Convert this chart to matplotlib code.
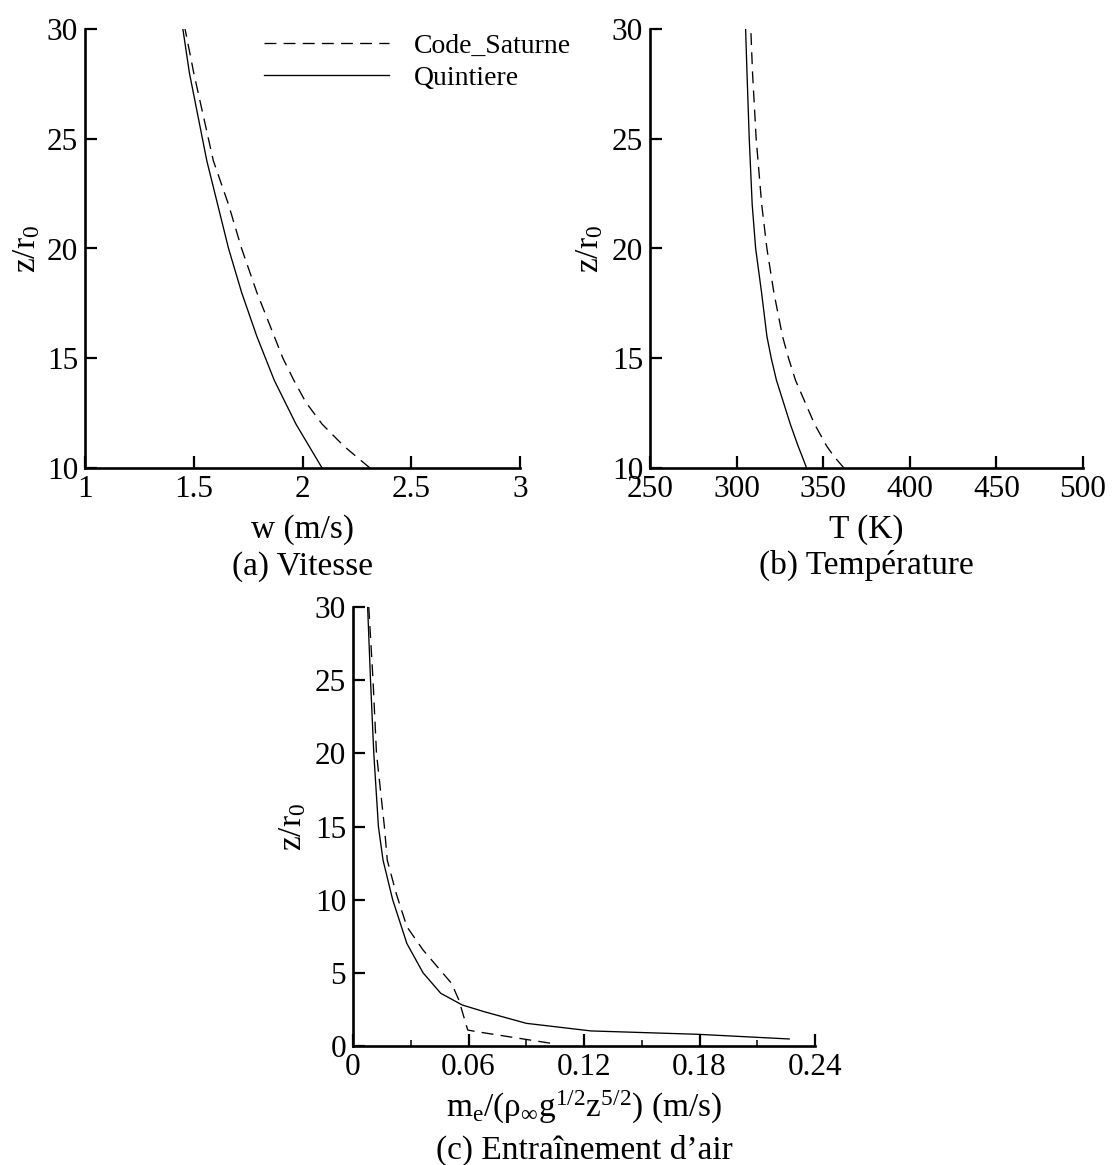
"""Vertical profiles along the plume axis: Code_Saturne vs Quintiere."""
import matplotlib
matplotlib.use("Agg")
import matplotlib.pyplot as plt

plt.rcParams.update({
    "font.family": ["Liberation Serif", "DejaVu Serif"],
    "mathtext.fontset": "custom",
    "mathtext.rm": "Liberation Serif",
    "mathtext.it": "Liberation Serif:italic",
    "font.size": 24,
})

W, H = 1112, 1165

# (a) axial velocity
z_a = [10, 11, 12, 13, 14, 15, 16, 18, 20, 22, 24, 26, 28, 30]
w_quint = [2.09, 2.03, 1.97, 1.92, 1.87, 1.83, 1.79, 1.72, 1.66, 1.61, 1.56, 1.52, 1.48, 1.45]
w_cs = [2.31, 2.19, 2.09, 2.015, 1.96, 1.91, 1.87, 1.79, 1.72, 1.66, 1.59, 1.545, 1.50, 1.46]
w_ticks = [1, 1.5, 2, 2.5, 3]
w_ticklabels = ["1", "1.5", "2", "2.5", "3"]

# (b) axial temperature
z_b = [10, 10.5, 11, 12, 13, 14, 15, 16, 18, 20, 22, 25, 28, 30]
T_quint = [340.4, 338, 335.5, 331, 327, 323, 320, 317.5, 314.4, 311, 309, 307.3, 306, 305.2]
T_cs = [362, 356.5, 352, 345, 339.5, 334, 330, 326.5, 321.5, 317.5, 314.5, 311.3, 309.2, 308.2]
T_ticks = [250, 300, 350, 400, 450, 500]

# (c) air entrainment
z_c_quint = [30, 25, 20, 15, 12.7, 10, 7, 5, 3.6, 2.8, 2.35, 1.55, 1.03, 0.8, 0.48]
me_quint = [0.0076, 0.0091, 0.0108, 0.0132, 0.0156, 0.0206, 0.028, 0.0364, 0.0456,
            0.0568, 0.068, 0.090, 0.1236, 0.179, 0.2266]
z_c_cs = [30, 25, 20, 15, 12.7, 10.4, 8.15, 6.56, 5.42, 4.28, 3.14, 1.09, 0.98, 0.52, 0.14]
me_cs = [0.0082, 0.0104, 0.0122, 0.0163, 0.0178, 0.0225, 0.028, 0.0364, 0.0438,
         0.0512, 0.055, 0.0596, 0.0642, 0.0865, 0.105]
me_ticks = [0, 0.06, 0.12, 0.18, 0.24]
me_ticklabels = ["0", "0.06", "0.12", "0.18", "0.24"]
me_minor = [0.03, 0.09, 0.15, 0.21]

z_ticks_ab = [10, 15, 20, 25, 30]
z_ticks_c = [0, 5, 10, 15, 20, 25, 30]

DASH = (9, 5.5)
LW = 0.95


def make_ax(fig, x0, y0, x1, y1):
    """Axes from pixel box (left, top, right, bottom)."""
    ax = fig.add_axes([x0 / W, 1 - y1 / H, (x1 - x0) / W, (y1 - y0) / H])
    for s in ("top", "right"):
        ax.spines[s].set_visible(False)
    for s in ("left", "bottom"):
        ax.spines[s].set_linewidth(1.9)
    ax.tick_params(which="major", direction="in", length=8.5, width=1.6,
                   labelsize=22.5, pad=5)
    ax.tick_params(which="minor", direction="in", length=4, width=1.1)
    return ax


def labels(ax, xlabel, ylabel, xl_y, yl_x):
    ax.set_xlabel(xlabel)
    ax.xaxis.label.set_va("center")
    ax.xaxis.set_label_coords(0.5, xl_y)
    ax.set_ylabel(ylabel)
    ax.yaxis.label.set_va("center")
    ax.yaxis.set_label_coords(yl_x, 0.5)


fig = plt.figure(figsize=(W / 100, H / 100), dpi=100)
ylab = r"$\mathregular{z/r_0}$"

ax = make_ax(fig, 85, 29, 520, 468)
ax.plot(w_cs, z_a, "k", lw=LW, dashes=DASH, label="Code_Saturne")
ax.plot(w_quint, z_a, "k-", lw=LW, label="Quintiere")
ax.set_xlim(1, 3); ax.set_ylim(10, 30)
ax.set_xticks(w_ticks, labels=w_ticklabels)
ax.set_yticks(z_ticks_ab)
labels(ax, "w (m/s)", ylab, -0.141, -0.133)
ax.legend(loc="upper left", bbox_to_anchor=(0.411, 0.991), frameon=False,
          fontsize=20, handlelength=4.5, handletextpad=0.9, borderpad=0,
          borderaxespad=0, labelspacing=0.25)
fig.text(302 / W, 1 - 567 / H, "(a) Vitesse", ha="center", va="center")

ax = make_ax(fig, 650, 29, 1083, 468)
ax.plot(T_cs, z_b, "k", lw=LW, dashes=DASH)
ax.plot(T_quint, z_b, "k-", lw=LW)
ax.set_xlim(250, 500); ax.set_ylim(10, 30)
ax.set_xticks(T_ticks)
ax.set_yticks(z_ticks_ab)
labels(ax, "T (K)", ylab, -0.141, -0.139)
fig.text(866 / W, 1 - 565 / H, "(b) Température", ha="center", va="center")

ax = make_ax(fig, 353, 607, 815, 1046)
ax.plot(me_cs, z_c_cs, "k", lw=LW, dashes=DASH)
ax.plot(me_quint, z_c_quint, "k-", lw=LW)
ax.set_xlim(0, 0.24); ax.set_ylim(0, 30)
ax.set_xticks(me_ticks, labels=me_ticklabels)
ax.set_xticks(me_minor, minor=True)
ax.set_yticks(z_ticks_c)
labels(ax, r"$\mathregular{m_e/(\rho_\infty g^{1/2}z^{5/2})}$ (m/s)", ylab, -0.139, -0.13)
fig.text(584 / W, 1 - 1150 / H, "(c) Entraînement d’air", ha="center", va="center")

fig.savefig("out.png", dpi=100)
